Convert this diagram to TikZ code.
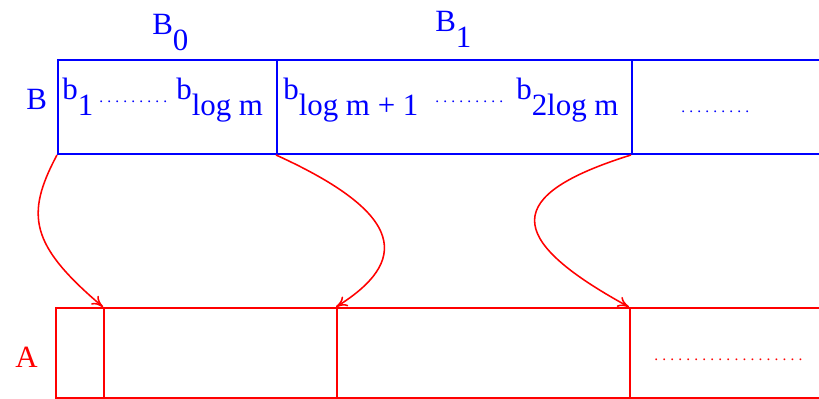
\documentclass[tikz,border=0pt]{standalone}
\usepackage{fontspec}
\setmainfont{Liberation Serif}
\usetikzlibrary{arrows.meta}
\newcommand{\lo}[1]{\raisebox{-11pt}{#1}}
\newcommand{\dts}[1]{\hbox to #1{\fontsize{11}{13}\selectfont\leaders\hbox to 5.7pt{\hss.\hss}\hfill}}

\begin{document}
\begin{tikzpicture}[x=0.025cm, y=-0.025cm,
      every node/.style={font=\fontsize{22}{26}\selectfont, inner sep=0pt},
      bcell/.style={draw=blue, line width=1.4pt, minimum height=2.35cm, anchor=north west},
      acell/.style={draw=red, line width=1.3pt, minimum height=2.25cm, anchor=north west},
      bluetxt/.style={text=blue, anchor=base west},
      redtxt/.style={text=red, anchor=base west},
      map/.style={draw=red, line width=1.1pt, -{To[length=8pt,width=8pt]}}]
    \clip (0,0) rectangle (819,399);
    % array B
    \node[bcell, minimum width=5.475cm] (B0) at (57,59) {};
    \node[bcell, minimum width=8.875cm] (B1) at (276,59) {};
    \node[bcell, minimum width=5.25cm] (B2) at (631,59) {};
    \node[bluetxt] (lB) at (26,110) {B};
    \node[bluetxt] (lB0) at (152,35) {B\lo{0}};
    \node[bluetxt] (lB1) at (435,32) {B\lo{1}};
    \node[bluetxt] (b1) at (62,100) {b\lo{1}};
    \node[bluetxt] (d1) at (97,103) {\dts{54pt}};
    \node[bluetxt] (blog) at (176,100) {b\lo{log m}};
    \node[bluetxt] (bnext) at (283,100) {b\lo{log m + 1}};
    \node[bluetxt] (d2) at (433,103) {\dts{55pt}};
    \node[bluetxt] (b2log) at (516,100) {b\lo{2log m}};
    \node[bluetxt] (d3) at (679,113) {\dts{56pt}};
    % array A
    \node[acell, minimum width=1.2cm] (A0) at (55,307) {};
    \node[acell, minimum width=5.825cm] (A1) at (103,307) {};
    \node[acell, minimum width=7.325cm] (A2) at (336,307) {};
    \node[acell, minimum width=5.5cm] (A3) at (629,307) {};
    \node[redtxt] (lA) at (15,367) {A};
    \node[redtxt] (d4) at (652,360) {\dts{109pt}};
    % blocks of B into A
    \draw[map] (B0.south west) .. controls (25,215) and (30,245) .. (A1.north west);
    \draw[map] (B1.south west) .. controls (408,215) and (408,262) .. (A2.north west);
    \draw[map] (B2.south west) .. controls (503,195) and (503,238) .. (A3.north west);
\end{tikzpicture}
\end{document}
